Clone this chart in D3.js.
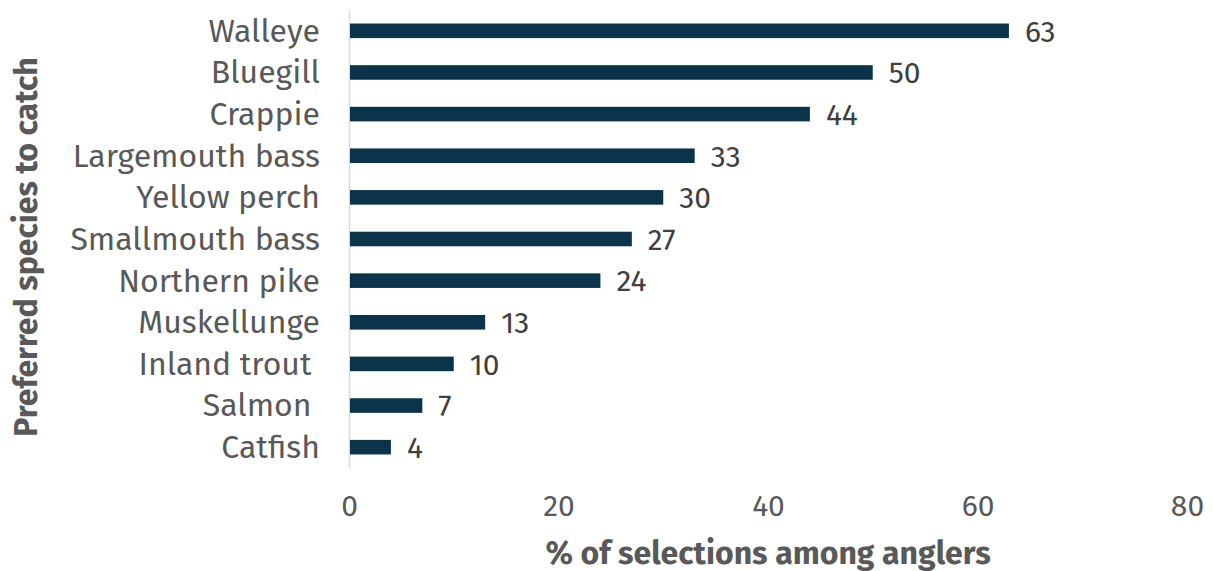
<!DOCTYPE html>
<html>
<head>
<meta charset="utf-8">
<script src="https://cdn.jsdelivr.net/npm/d3@7"></script>
<style>
  html, body { margin: 0; padding: 0; background: #fff; }
  svg text { font-family: "Fira Sans", "Open Sans", "Noto Sans", sans-serif; white-space: pre; }
</style>
</head>
<body>
<svg id="chart" width="1213" height="571"></svg>
<script>
// Species preferred by anglers, share of selections (%)
const species = ["Walleye", "Bluegill", "Crappie", "Largemouth bass", "Yellow perch",
  "Smallmouth bass", "Northern pike", "Muskellunge", "Inland trout ", "Salmon ", "Catfish"];
const shares = [63, 50, 44, 33, 30, 27, 24, 13, 10, 7, 4];
const xTicks = [0, 20, 40, 60, 80];

const rows = species.map((s, i) => ({ name: s, value: shares[i] }));

const svg = d3.select("#chart");
const barColor = "#0b3349";

const x = d3.scaleLinear().domain([0, 80]).range([349, 1187]);
const y = d3.scaleBand().domain(species).range([10, 468])
  .paddingInner(0.65).paddingOuter(0.325);

// Category axis (left)
const yAxis = svg.append("g")
  .attr("transform", `translate(${x(0)},0)`)
  .call(d3.axisLeft(y).tickSize(0).tickPadding(29));
yAxis.select(".domain").attr("stroke", "#d9d9d9").attr("stroke-width", 1.5);
yAxis.selectAll("text")
  .attr("fill", "#595959")
  .attr("dy", "0.34em")
  .style("font-size", "32px");

// Value axis (bottom), labels only
const xAxis = svg.append("g")
  .attr("transform", "translate(0,468)")
  .call(d3.axisBottom(x).tickValues(xTicks).tickSize(0).tickPadding(27));
xAxis.select(".domain").remove();
xAxis.selectAll("text")
  .attr("fill", "#595959")
  .style("font-size", "30px");

// Bars
svg.append("g").selectAll("rect")
  .data(rows).join("rect")
  .attr("x", x(0) + 1)
  .attr("y", d => y(d.name))
  .attr("width", d => x(d.value) - x(0) - 1)
  .attr("height", y.bandwidth())
  .attr("fill", barColor);

// Value labels
svg.append("g").selectAll("text")
  .data(rows).join("text")
  .attr("x", d => x(d.value) + 16)
  .attr("y", d => y(d.name) + y.bandwidth() / 2)
  .attr("dy", "0.36em")
  .attr("fill", "#404040")
  .style("font-size", "30px")
  .text(d => d.value);

// Axis titles
svg.append("text")
  .attr("x", 768).attr("y", 564)
  .attr("text-anchor", "middle")
  .attr("fill", "#595959")
  .style("font-size", "32px").style("font-weight", "bold")
  .text("% of selections among anglers");

svg.append("text")
  .attr("transform", "translate(37,247) rotate(-90)")
  .attr("text-anchor", "middle")
  .attr("fill", "#595959")
  .style("font-size", "32px").style("font-weight", "bold")
  .text("Preferred species to catch");
</script>
</body>
</html>
